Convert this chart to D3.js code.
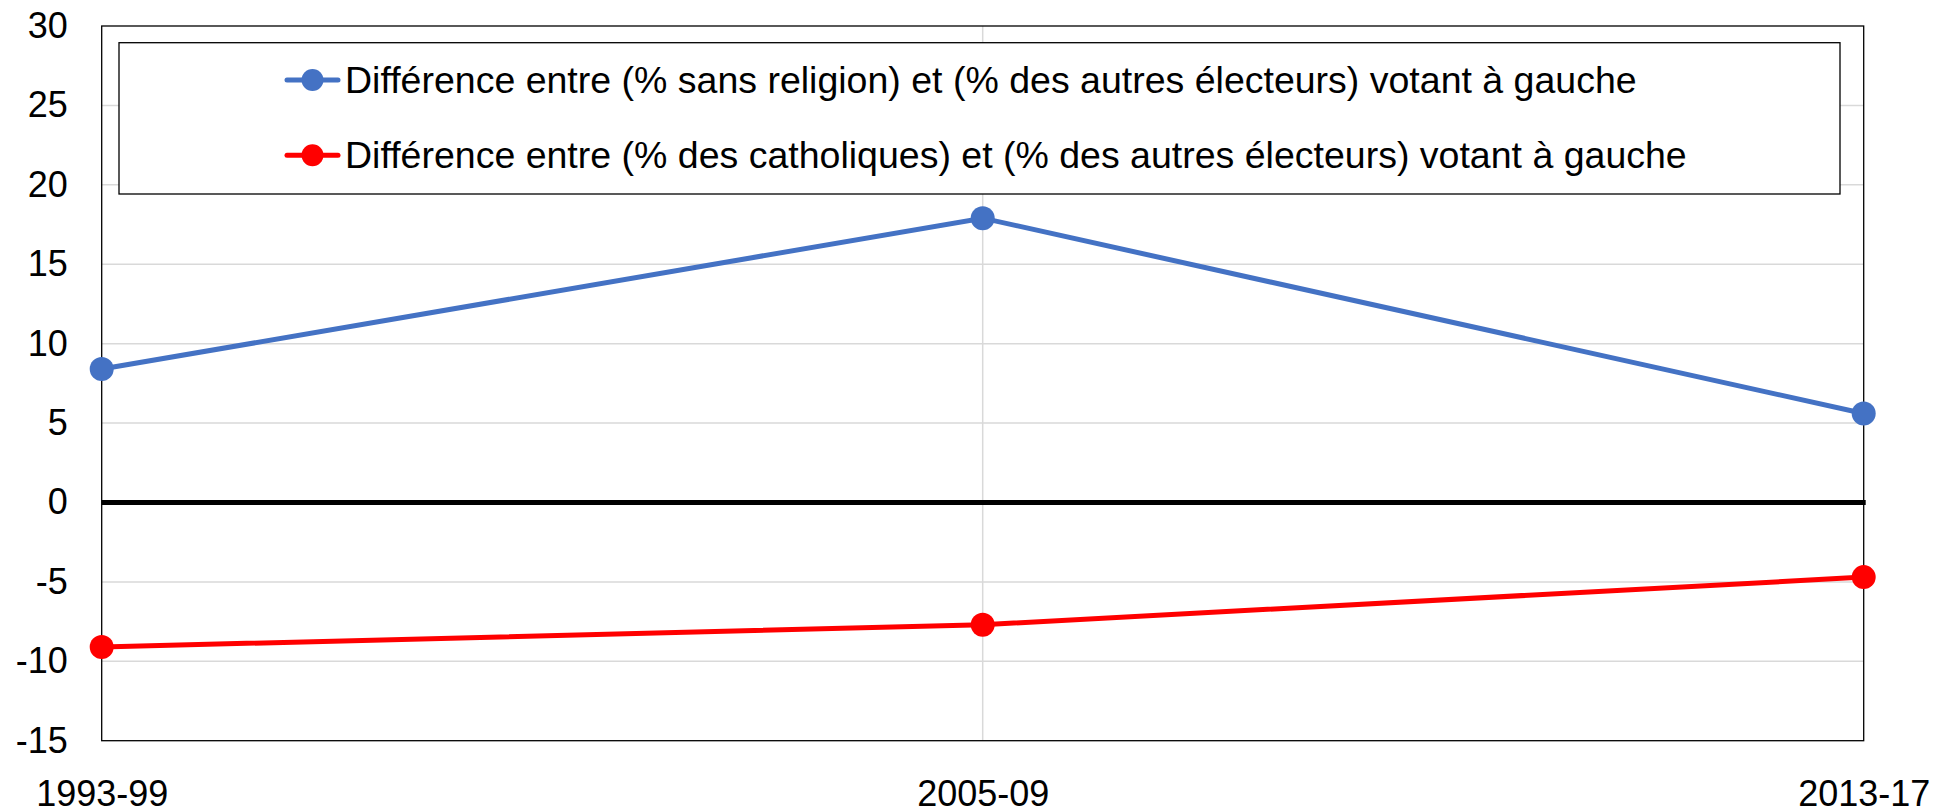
<!DOCTYPE html>
<html>
<head>
<meta charset="utf-8">
<script src="https://cdn.jsdelivr.net/npm/d3@7"></script>
<style>
  body { margin: 0; background: #fff; }
  svg { display: block; font-family: 'Liberation Sans', Arial, sans-serif; }
</style>
</head>
<body>
<svg id="chart" width="1937" height="811"></svg>
<script>
const periods = ['1993-99', '2005-09', '2013-17']
const sansReligion = [8.4, 17.9, 5.6]
const catholiques = [-9.1, -7.7, -4.7]
const yTicks = [30, 25, 20, 15, 10, 5, 0, -5, -10, -15]
const seriesNames = [
  'Différence entre (% sans religion) et (% des autres électeurs) votant à gauche',
  'Différence entre (% des catholiques) et (% des autres électeurs) votant à gauche'
]
const seriesColors = ['#4472c4', '#ff0000']

let svg = d3.select('#chart')
let grid = { left: 101.7, right: 1863.7, top: 26, bottom: 740.7 }

let x = d3.scalePoint().domain(periods).range([grid.left, grid.right]).padding(0)
let y = d3.scaleLinear().domain([-15, 30]).range([grid.bottom, grid.top])

// horizontal gridlines
svg.append('g')
  .selectAll('line')
  .data(yTicks.filter(d => d !== 0 && d !== 30 && d !== -15))
  .join('line')
  .attr('x1', grid.left).attr('x2', grid.right)
  .attr('y1', d => y(d)).attr('y2', d => y(d))
  .attr('stroke', '#d9d9d9').attr('stroke-width', 1.5)

// vertical gridlines (inner categories)
svg.append('g')
  .selectAll('line')
  .data(periods.slice(1, -1))
  .join('line')
  .attr('x1', d => x(d)).attr('x2', d => x(d))
  .attr('y1', grid.top).attr('y2', grid.bottom)
  .attr('stroke', '#d9d9d9').attr('stroke-width', 1.5)

// plot border
svg.append('rect')
  .attr('x', grid.left).attr('y', grid.top)
  .attr('width', grid.right - grid.left).attr('height', grid.bottom - grid.top)
  .attr('fill', 'none').attr('stroke', '#000').attr('stroke-width', 1.3)

// zero line
svg.append('line')
  .attr('x1', grid.left).attr('x2', grid.right + 2)
  .attr('y1', y(0)).attr('y2', y(0))
  .attr('stroke', '#000').attr('stroke-width', 5)

// y axis labels (plain hyphen like the source, not unicode minus)
let yAxis = d3.axisLeft(y).tickValues(yTicks).tickSize(0).tickPadding(34)
  .tickFormat(d => String(d))
let yg = svg.append('g').attr('transform', `translate(${grid.left},0)`).call(yAxis)
yg.select('.domain').remove()
yg.selectAll('text')
  .attr('font-size', 36).attr('fill', '#000')
  .attr('font-family', "'Liberation Sans', Arial, sans-serif")

// x axis labels
let xAxis = d3.axisBottom(x).tickSize(0).tickPadding(40)
let xg = svg.append('g').attr('transform', `translate(0,${grid.bottom})`).call(xAxis)
xg.select('.domain').remove()
xg.selectAll('text')
  .attr('font-size', 36).attr('fill', '#000')
  .attr('font-family', "'Liberation Sans', Arial, sans-serif")

// series
let line = d3.line().x((d, i) => x(periods[i])).y(d => y(d))
;[sansReligion, catholiques].forEach((data, idx) => {
  let g = svg.append('g')
  g.append('path')
    .attr('d', line(data))
    .attr('fill', 'none')
    .attr('stroke', seriesColors[idx])
    .attr('stroke-width', 5)
  g.selectAll('circle')
    .data(data)
    .join('circle')
    .attr('cx', (d, i) => x(periods[i]))
    .attr('cy', d => y(d))
    .attr('r', 12)
    .attr('fill', seriesColors[idx])
})

// legend
let legend = svg.append('g')
legend.append('rect')
  .attr('x', 119).attr('y', 42.7)
  .attr('width', 1840 - 119).attr('height', 194 - 42.7)
  .attr('fill', '#fff').attr('stroke', '#000').attr('stroke-width', 1.3)

let rows = legend.selectAll('g.row')
  .data(seriesNames)
  .join('g')
  .attr('class', 'row')
  .attr('transform', (d, i) => `translate(0,${80 + i * 75.3})`)
rows.append('line')
  .attr('x1', 287).attr('x2', 338)
  .attr('stroke', (d, i) => seriesColors[i]).attr('stroke-width', 5)
  .attr('stroke-linecap', 'round')
rows.append('circle')
  .attr('cx', 312.5).attr('r', 11)
  .attr('fill', (d, i) => seriesColors[i])
rows.append('text')
  .attr('x', 345).attr('dy', '0.35em')
  .attr('font-size', 37.5)
  .attr('fill', '#000')
  .text(d => d)
</script>
</body>
</html>
